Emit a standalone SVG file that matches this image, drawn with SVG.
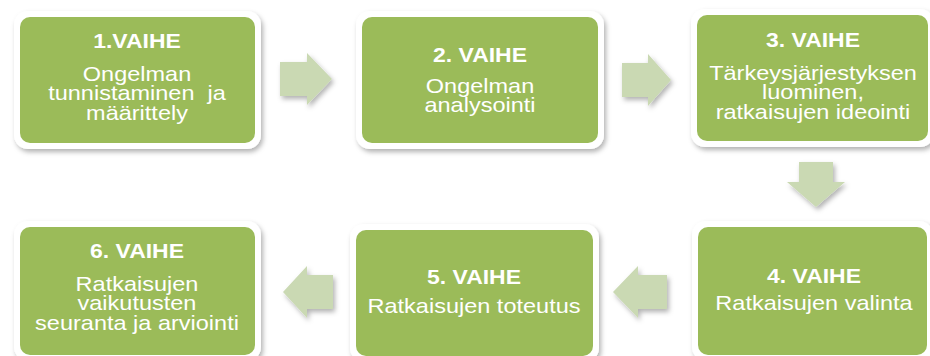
<svg xmlns="http://www.w3.org/2000/svg" width="930" height="356" viewBox="0 0 930 356">
<defs>
<filter id="sh" x="-10%" y="-10%" width="125%" height="130%">
<feDropShadow dx="2" dy="3" stdDeviation="2.5" flood-color="#000" flood-opacity="0.3"/>
</filter>
<style>
.frame{fill:#fff;filter:url(#sh)}
.box{fill:#9bbb59}
.arrow{fill:#cad9b3;filter:url(#sh)}
text{font-family:"Liberation Sans",Arial,sans-serif;fill:#fff;text-anchor:middle}
.t{font-weight:bold;font-size:20.5px}
.b{font-size:21px}
</style>
</defs>
<rect width="930" height="356" fill="#fff"/>
<g id="connectors">
<polygon class="arrow" points="280,62 307,62 307,53 332,79 307,105 307,96 280,96"/>
<polygon class="arrow" points="622,63 648,63 648,54 671,80 648,106 648,97 622,97"/>
<polygon class="arrow" points="799,162 833,162 833,182 845,182 816,207 787,182 799,182"/>
<polygon class="arrow" points="667,275 638,275 638,266 613,292 638,318 638,309 667,309"/>
<polygon class="arrow" points="333,275 307,275 307,266 283,292 307,318 307,309 333,309"/>
</g>
<g id="node1">
<rect class="frame" x="14" y="11" width="247" height="138" rx="14"/>
<rect class="box" x="20" y="17" width="235" height="126" rx="10"/>
<g transform="translate(137 0) scale(1.12 1)">
<text class="t" x="0" y="48">1.VAIHE</text>
<text class="b" x="0" y="81" style="white-space:pre"><tspan x="0">Ongelman</tspan><tspan x="0" dy="19.5">tunnistaminen  ja</tspan><tspan x="0" dy="19.5">määrittely</tspan></text>
</g>
</g>
<g id="node2">
<rect class="frame" x="356" y="11" width="248" height="138" rx="14"/>
<rect class="box" x="362" y="17" width="236" height="126" rx="10"/>
<g transform="translate(480 0) scale(1.12 1)">
<text class="t" x="0" y="62">2. VAIHE</text>
<text class="b" x="0" y="93"><tspan x="0">Ongelman</tspan><tspan x="0" dy="19.5">analysointi</tspan></text>
</g>
</g>
<g id="node3">
<rect class="frame" x="691" y="9" width="243" height="138" rx="14"/>
<rect class="box" x="697" y="15" width="231" height="126" rx="10"/>
<g transform="translate(813 0) scale(1.12 1)">
<text class="t" x="0" y="47">3. VAIHE</text>
<text class="b" x="0" y="80"><tspan x="0">Tärkeysjärjestyksen</tspan><tspan x="0" dy="19.5">luominen,</tspan><tspan x="0" dy="19.5">ratkaisujen ideointi</tspan></text>
</g>
</g>
<g id="node4">
<rect class="frame" x="692" y="221" width="241" height="140" rx="14"/>
<rect class="box" x="698" y="227" width="229" height="128" rx="10"/>
<g transform="translate(814 0) scale(1.12 1)">
<text class="t" x="0" y="283">4. VAIHE</text>
<text class="b" x="0" y="310">Ratkaisujen valinta</text>
</g>
</g>
<g id="node5">
<rect class="frame" x="350" y="224" width="249" height="138" rx="14"/>
<rect class="box" x="356" y="230" width="237" height="126" rx="10"/>
<g transform="translate(474 0) scale(1.12 1)">
<text class="t" x="0" y="284">5. VAIHE</text>
<text class="b" x="0" y="313">Ratkaisujen toteutus</text>
</g>
</g>
<g id="node6">
<rect class="frame" x="14" y="221" width="247" height="140" rx="14"/>
<rect class="box" x="20" y="227" width="235" height="128" rx="10"/>
<g transform="translate(137 0) scale(1.12 1)">
<text class="t" x="0" y="258">6. VAIHE</text>
<text class="b" x="0" y="291"><tspan x="0">Ratkaisujen</tspan><tspan x="0" dy="19.5">vaikutusten</tspan><tspan x="0" dy="19.5">seuranta ja arviointi</tspan></text>
</g>
</g>
</svg>
